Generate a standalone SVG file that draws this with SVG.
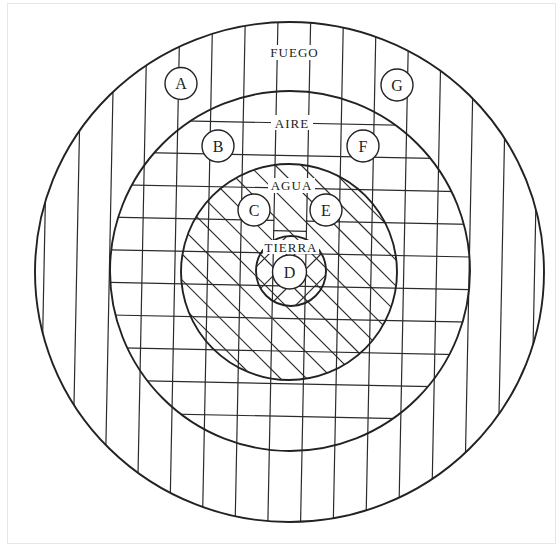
<svg xmlns="http://www.w3.org/2000/svg" width="560" height="547" viewBox="0 0 560 547">
<style>
.g{stroke:#2b2b2b;stroke-width:1.2;fill:none}
.c{stroke:#222;stroke-width:1.9;fill:none}
.n{stroke:#222;stroke-width:1.4;fill:#fff}
.lt{font-family:"Liberation Serif","Times New Roman",serif;font-size:16px;fill:#222;text-anchor:middle}
.lb{font-family:"Liberation Serif","Times New Roman",serif;font-size:13px;letter-spacing:1px;fill:#222;text-anchor:middle}
.bg{fill:#fff;stroke:none}
</style>
<defs>
<clipPath id="cOuter"><ellipse cx="289.5" cy="272" rx="254.5" ry="250"/></clipPath>
<clipPath id="cAire"><circle cx="290" cy="271" r="180"/></clipPath>
<clipPath id="cAgua"><circle cx="289" cy="272" r="108"/></clipPath>
<clipPath id="cTierra"><circle cx="291" cy="271" r="35"/></clipPath>
</defs>
<rect x="7.5" y="3.5" width="548" height="540" fill="#fff" stroke="#e6e6e6" stroke-width="1"/>
<g id="hatching">
<g clip-path="url(#cOuter)">
<g transform="rotate(1.15 290 272)" class="g">
<line x1="44" y1="0" x2="44" y2="547"/>
<line x1="76.7" y1="0" x2="76.7" y2="547"/>
<line x1="109.4" y1="0" x2="109.4" y2="547"/>
<line x1="142.1" y1="0" x2="142.1" y2="547"/>
<line x1="174.8" y1="0" x2="174.8" y2="547"/>
<line x1="207.5" y1="0" x2="207.5" y2="547"/>
<line x1="240.2" y1="0" x2="240.2" y2="547"/>
<line x1="272.9" y1="0" x2="272.9" y2="547"/>
<line x1="305.6" y1="0" x2="305.6" y2="547"/>
<line x1="338.3" y1="0" x2="338.3" y2="547"/>
<line x1="371" y1="0" x2="371" y2="547"/>
<line x1="403.7" y1="0" x2="403.7" y2="547"/>
<line x1="436.4" y1="0" x2="436.4" y2="547"/>
<line x1="469.1" y1="0" x2="469.1" y2="547"/>
<line x1="501.8" y1="0" x2="501.8" y2="547"/>
<line x1="534.5" y1="0" x2="534.5" y2="547"/>
</g>
</g>
<g clip-path="url(#cAire)">
<g transform="rotate(1.15 290 272)" class="g">
<line x1="0" y1="123" x2="560" y2="123"/>
<line x1="0" y1="155.6" x2="560" y2="155.6"/>
<line x1="0" y1="188.2" x2="560" y2="188.2"/>
<line x1="0" y1="220.8" x2="272.9" y2="220.8"/>
<line x1="305.6" y1="220.8" x2="560" y2="220.8"/>
<line x1="272.9" y1="231" x2="305.6" y2="231"/>
<line x1="0" y1="253.4" x2="560" y2="253.4"/>
<line x1="0" y1="286" x2="560" y2="286"/>
<line x1="0" y1="318.6" x2="560" y2="318.6"/>
<line x1="0" y1="351.2" x2="560" y2="351.2"/>
<line x1="0" y1="383.8" x2="560" y2="383.8"/>
<line x1="0" y1="416.4" x2="560" y2="416.4"/>
</g>
</g>
<g clip-path="url(#cAgua)" class="g">
<line x1="-24" y1="100" x2="326" y2="450"/>
<line x1="2" y1="100" x2="352" y2="450"/>
<line x1="28" y1="100" x2="378" y2="450"/>
<line x1="54" y1="100" x2="404" y2="450"/>
<line x1="80" y1="100" x2="430" y2="450"/>
<line x1="106" y1="100" x2="456" y2="450"/>
<line x1="132" y1="100" x2="482" y2="450"/>
<line x1="158" y1="100" x2="508" y2="450"/>
<line x1="184" y1="100" x2="534" y2="450"/>
<line x1="210" y1="100" x2="560" y2="450"/>
<line x1="236" y1="100" x2="586" y2="450"/>
<line x1="262" y1="100" x2="612" y2="450"/>
<line x1="288" y1="100" x2="638" y2="450"/>
</g>
<g clip-path="url(#cTierra)" class="g">
<line x1="423" y1="100" x2="73" y2="450"/>
<line x1="449" y1="100" x2="99" y2="450"/>
<line x1="475" y1="100" x2="125" y2="450"/>
<line x1="501" y1="100" x2="151" y2="450"/>
</g>
</g>
<g id="spheres">
<ellipse id="fuego" class="c" cx="289.5" cy="272" rx="254.5" ry="250"/>
<circle id="aire" class="c" cx="290" cy="271" r="180"/>
<circle id="agua" class="c" cx="289" cy="272" r="108"/>
<circle id="tierra" class="c" cx="291" cy="271" r="35"/>
</g>
<g id="label-fuego"><rect class="bg" x="266" y="45" width="56" height="15"/><text class="lb" x="294.5" y="57">FUEGO</text></g>
<g id="label-aire"><rect class="bg" x="271" y="115" width="42" height="15"/><text class="lb" x="292" y="127.5">AIRE</text></g>
<g id="label-agua"><rect class="bg" x="268" y="178" width="47" height="15"/><text class="lb" x="291.5" y="190">AGUA</text></g>
<g id="label-tierra"><rect class="bg" x="263" y="240" width="56" height="14"/><text class="lb" x="291" y="252">TIERRA</text></g>
<g id="node-A"><circle class="n" cx="181" cy="83.5" r="16"/><text class="lt" x="181" y="89">A</text></g>
<g id="node-G"><circle class="n" cx="397" cy="85" r="16"/><text class="lt" x="397" y="90.5">G</text></g>
<g id="node-B"><circle class="n" cx="218" cy="146" r="16"/><text class="lt" x="218" y="151.5">B</text></g>
<g id="node-F"><circle class="n" cx="363" cy="146" r="16"/><text class="lt" x="363" y="151.5">F</text></g>
<g id="node-C"><circle class="n" cx="254" cy="210" r="16"/><text class="lt" x="254" y="215.5">C</text></g>
<g id="node-E"><circle class="n" cx="326" cy="210" r="16"/><text class="lt" x="326" y="215.5">E</text></g>
<g id="node-D"><circle class="n" cx="289.5" cy="272" r="17"/><text class="lt" x="289.5" y="277.5">D</text></g>
</svg>
